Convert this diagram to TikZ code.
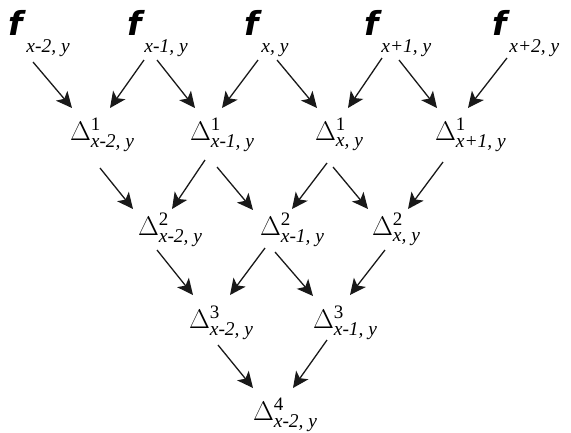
\RequirePackage{fix-cm}
\documentclass[tikz,border=0pt]{standalone}
\usepackage{amsmath}
\usepackage{fontspec}
\setmainfont{Liberation Serif}
\newfontfamily\fserif{Liberation Serif}
\newfontfamily\fsans{DejaVu Sans}
\usetikzlibrary{arrows.meta,calc}
\newcommand\DLab[2]{$\Delta^{\text{\fserif\fontsize{19}{20}\selectfont #1}}_{\text{\fserif\itshape\fontsize{19.5}{20}\selectfont #2}}$}
\newcommand\FLab[1]{{\fsans\bfseries\itshape\fontsize{33}{35}\selectfont f}\kern3pt\raisebox{-17pt}{\fserif\fontsize{19.5}{20}\selectfont\itshape #1}}
\tikzset{
  lab/.style={inner sep=0pt, outer sep=0pt, anchor=base west, font=\fontsize{27}{30}\selectfont},
  flab/.style={inner sep=0pt, outer sep=0pt, anchor=base west},
  arr/.style={line width=1.3pt, draw=black!90, -{Stealth[length=16pt,width=15pt,inset=4pt]}}
}
\begin{document}
\begin{tikzpicture}[x=1pt,y=-1pt]
\useasboundingbox (0,0) rectangle (571,432);
% top row
\node[flab] (f1) at (9,35) {\FLab{x-2, y}};
\node[flab] (f2) at (127,35) {\FLab{x-1, y}};
\node[flab] (f3) at (244,35) {\FLab{x, y}};
\node[flab] (f4) at (364,35) {\FLab{x+1, y}};
\node[flab] (f5) at (492,35) {\FLab{x+2, y}};
% row 1
\node[lab] (d1a) at (70,140) {\DLab{1}{x-2, y}};
\node[lab] (d1b) at (190,140) {\DLab{1}{x-1, y}};
\node[lab] (d1c) at (315,140) {\DLab{1}{x, y}};
\node[lab] (d1d) at (435,140) {\DLab{1}{x+1, y}};
% row 2
\node[lab] (d2a) at (138,235) {\DLab{2}{x-2, y}};
\node[lab] (d2b) at (260,235) {\DLab{2}{x-1, y}};
\node[lab] (d2c) at (372,235) {\DLab{2}{x, y}};
% row 3
\node[lab] (d3a) at (189,328) {\DLab{3}{x-2, y}};
\node[lab] (d3b) at (313,328) {\DLab{3}{x-1, y}};
% row 4
\node[lab] (d4) at (253,420) {\DLab{4}{x-2, y}};
% arrows f -> row 1
\draw[arr] ($(f1.base west)+(24,27)$) -- ($(d1a.base west)+(2,-32)$);
\draw[arr] ($(f2.base west)+(17,25)$) -- ($(d1a.base west)+(40,-32)$);
\draw[arr] ($(f2.base west)+(30,25)$) -- ($(d1b.base west)+(5,-32)$);
\draw[arr] ($(f3.base west)+(14,25)$) -- ($(d1b.base west)+(32,-32)$);
\draw[arr] ($(f3.base west)+(33,25)$) -- ($(d1c.base west)+(2,-32)$);
\draw[arr] ($(f4.base west)+(18,23)$) -- ($(d1c.base west)+(33,-32)$);
\draw[arr] ($(f4.base west)+(35,25)$) -- ($(d1d.base west)+(2,-32)$);
\draw[arr] ($(f5.base west)+(15,23)$) -- ($(d1d.base west)+(33,-32)$);
% row 1 -> row 2
\draw[arr] ($(d1a.base west)+(30,28)$) -- ($(d2a.base west)+(-5,-26)$);
\draw[arr] ($(d1b.base west)+(15,20)$) -- ($(d2a.base west)+(34,-26)$);
\draw[arr] ($(d1b.base west)+(27,27)$) -- ($(d2b.base west)+(-7,-25)$);
\draw[arr] ($(d1c.base west)+(12,23)$) -- ($(d2b.base west)+(32,-26)$);
\draw[arr] ($(d1c.base west)+(18,27)$) -- ($(d2c.base west)+(-4,-26)$);
\draw[arr] ($(d1d.base west)+(8,22)$) -- ($(d2c.base west)+(36,-26)$);
% row 2 -> row 3
\draw[arr] ($(d2a.base west)+(19,15)$) -- ($(d3a.base west)+(4,-33)$);
\draw[arr] ($(d2b.base west)+(5,13)$) -- ($(d3a.base west)+(41,-33)$);
\draw[arr] ($(d2b.base west)+(15,17)$) -- ($(d3b.base west)+(0,-32)$);
\draw[arr] ($(d2c.base west)+(13,15)$) -- ($(d3b.base west)+(37,-33)$);
% row 3 -> row 4
\draw[arr] ($(d3a.base west)+(29,17)$) -- ($(d4.base west)+(0,-32)$);
\draw[arr] ($(d3b.base west)+(14,12)$) -- ($(d4.base west)+(40,-32)$);
\end{tikzpicture}
\end{document}
